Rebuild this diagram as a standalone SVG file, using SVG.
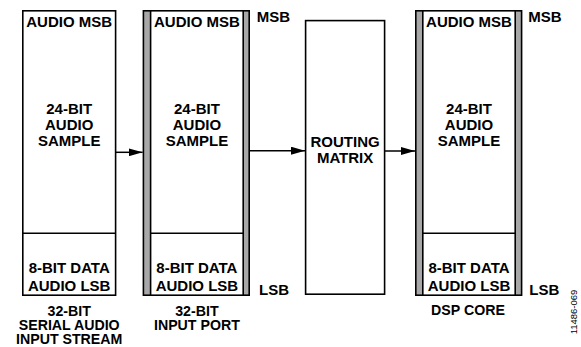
<svg xmlns="http://www.w3.org/2000/svg" width="581" height="347" viewBox="0 0 581 347">
<style>
.t{font-family:"Liberation Sans",Arial,sans-serif;font-weight:bold;font-size:15px;fill:#000;text-anchor:middle}
.b{font-size:14.2px}
.s{text-anchor:start}
.box{fill:#fff;stroke:#000;stroke-width:1.6}
.band{fill:#a8a8a8;stroke:#000;stroke-width:1.6}
.ln{stroke:#000;stroke-width:1.5;fill:none}
.id{font-family:"Liberation Sans",Arial,sans-serif;font-size:9.5px;fill:#000;text-anchor:middle}
</style>
<defs>
<marker id="ah" markerWidth="14" markerHeight="8" refX="14" refY="4" orient="auto" markerUnits="userSpaceOnUse">
<path d="M0,0 L14,4 L0,8 Z" fill="#000"/>
</marker>
</defs>
<g id="stream">
<rect class="box" x="22.8" y="10.8" width="92.8" height="284.4"/>
<line class="ln" x1="22.8" y1="233.3" x2="115.6" y2="233.3"/>
<text class="t" x="69.2" y="27.3">AUDIO MSB</text>
<text class="t" x="69.2" y="114">24-BIT</text>
<text class="t" x="69.2" y="130">AUDIO</text>
<text class="t" x="69.2" y="145.7">SAMPLE</text>
<text class="t" x="69.2" y="273.3">8-BIT DATA</text>
<text class="t" x="69.2" y="291">AUDIO LSB</text>
<text class="t b" x="69.2" y="315.7">32-BIT</text>
<text class="t b" x="69.2" y="330">SERIAL AUDIO</text>
<text class="t b" x="69.2" y="344">INPUT STREAM</text>
</g>
<g id="inputport">
<rect class="band" x="143.4" y="10.8" width="105.8" height="284.4"/>
<rect class="box" x="150.6" y="10.8" width="92.6" height="284.4"/>
<line class="ln" x1="150.6" y1="233.3" x2="243.2" y2="233.3"/>
<text class="t" x="196.9" y="27.3">AUDIO MSB</text>
<text class="t" x="196.9" y="114">24-BIT</text>
<text class="t" x="196.9" y="130">AUDIO</text>
<text class="t" x="196.9" y="145.7">SAMPLE</text>
<text class="t" x="196.9" y="273.3">8-BIT DATA</text>
<text class="t" x="196.9" y="291">AUDIO LSB</text>
<text class="t s" x="256.7" y="21.7">MSB</text>
<text class="t s" x="259" y="295">LSB</text>
<text class="t b" x="196.9" y="315.7">32-BIT</text>
<text class="t b" x="196.9" y="330">INPUT PORT</text>
</g>
<g id="routing">
<rect class="box" x="305.6" y="20.6" width="79" height="273.6"/>
<text class="t" x="345.1" y="146.7">ROUTING</text>
<text class="t" x="345.1" y="163.3">MATRIX</text>
</g>
<g id="dspcore">
<rect class="band" x="415.8" y="10.8" width="105.8" height="284.4"/>
<rect class="box" x="422.8" y="10.8" width="92.4" height="284.4"/>
<line class="ln" x1="422.8" y1="233.3" x2="515.2" y2="233.3"/>
<text class="t" x="469" y="27.3">AUDIO MSB</text>
<text class="t" x="469" y="114">24-BIT</text>
<text class="t" x="469" y="130">AUDIO</text>
<text class="t" x="469" y="145.7">SAMPLE</text>
<text class="t" x="469" y="273.3">8-BIT DATA</text>
<text class="t" x="469" y="291">AUDIO LSB</text>
<text class="t s" x="528.3" y="21.7">MSB</text>
<text class="t s" x="529.3" y="295">LSB</text>
<text class="t b" x="468" y="315">DSP CORE</text>
</g>
<g id="connectors">
<line class="ln" x1="115.6" y1="152.3" x2="142.6" y2="152.3" marker-end="url(#ah)"/>
<line class="ln" x1="250" y1="150.7" x2="305" y2="150.7" marker-end="url(#ah)"/>
<line class="ln" x1="384.6" y1="151" x2="415" y2="151" marker-end="url(#ah)"/>
</g>
<text class="id" transform="translate(577,312) rotate(-90)">11486-069</text>
</svg>
